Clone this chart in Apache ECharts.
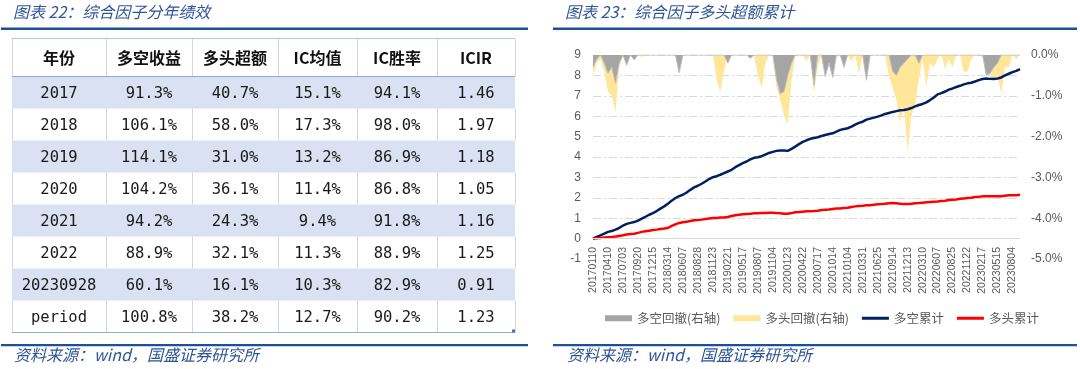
<!DOCTYPE html>
<html><head><meta charset="utf-8">
<script src="https://cdn.jsdelivr.net/npm/echarts@6/dist/echarts.min.js"></script>
<style>html,body{margin:0;padding:0;background:#fff}#c{width:1080px;height:369px}</style>
</head><body><div id="c"></div>
<script>
// ---------- Table data (图表22) ----------
const tableHeaders = ['年份', '多空收益', '多头超额', 'IC均值', 'IC胜率', 'ICIR'];
const tableYears = ['2017', '2018', '2019', '2020', '2021', '2022', '20230928', 'period'];
const longShortReturn = [91.3, 106.1, 114.1, 104.2, 94.2, 88.9, 60.1, 100.8];
const longExcess = [40.7, 58.0, 31.0, 36.1, 24.3, 32.1, 16.1, 38.2];
const icMean = [15.1, 17.3, 13.2, 11.4, 9.4, 11.3, 10.3, 12.7];
const icWinRate = [94.1, 98.0, 86.9, 86.8, 91.8, 88.9, 82.9, 90.2];
const icir = [1.46, 1.97, 1.18, 1.05, 1.16, 1.25, 0.91, 1.23];

// ---------- Chart data (图表23) ----------
const tickDates = ['20170110','20170410','20170703','20170920','20171215','20180314','20180607','20180828',
  '20181123','20190221','20190517','20190807','20191104','20200123','20200422','20200717','20201014',
  '20210104','20210331','20210625','20210914','20211213','20220310','20220607','20220825','20221122',
  '20230217','20230515','20230804'];
const lastDate = '20230928';
const samplesPerTick = 4;

const longShortCum = [0,0.08,0.16,0.24,0.33,0.37,0.44,0.52,0.64,0.72,
0.77,0.81,0.88,0.98,1.07,1.17,1.25,1.35,1.47,1.58,
1.71,1.86,1.99,2.08,2.15,2.26,2.39,2.51,2.59,2.69,
2.80,2.92,3.01,3.06,3.13,3.21,3.29,3.37,3.50,3.60,
3.70,3.78,3.88,3.96,3.99,4.04,4.12,4.20,4.25,4.30,
4.32,4.32,4.30,4.40,4.51,4.63,4.74,4.82,4.89,4.93,
4.97,5.03,5.08,5.13,5.16,5.24,5.33,5.37,5.41,5.49,
5.59,5.67,5.73,5.83,5.88,5.93,5.98,6.04,6.11,6.16,
6.21,6.25,6.29,6.30,6.34,6.40,6.48,6.55,6.60,6.68,
6.79,6.92,7.07,7.13,7.21,7.30,7.36,7.43,7.49,7.56,
7.61,7.64,7.70,7.77,7.82,7.85,7.83,7.82,7.85,7.90,
8.00,8.08,8.16,8.22,8.31];

const longCum = [0,0.02,0.03,0.05,0.07,0.08,0.10,0.13,0.16,0.20,
0.23,0.24,0.28,0.33,0.36,0.39,0.42,0.44,0.47,0.49,
0.52,0.62,0.70,0.77,0.80,0.83,0.86,0.90,0.91,0.93,
0.96,0.99,1.01,1.01,1.03,1.04,1.06,1.11,1.14,1.17,
1.19,1.21,1.22,1.24,1.24,1.25,1.25,1.27,1.27,1.25,
1.24,1.22,1.22,1.25,1.29,1.30,1.32,1.34,1.34,1.35,
1.37,1.40,1.42,1.43,1.45,1.47,1.48,1.50,1.51,1.55,
1.58,1.60,1.61,1.63,1.64,1.66,1.68,1.69,1.71,1.73,
1.74,1.73,1.71,1.69,1.69,1.71,1.73,1.74,1.76,1.78,
1.79,1.81,1.82,1.84,1.86,1.89,1.91,1.92,1.95,1.97,
1.99,2.00,2.04,2.05,2.07,2.07,2.07,2.07,2.07,2.08,
2.10,2.12,2.12,2.13,2.15];

// drawdowns in %
const longDrawdown = [-0.5,-0.2,-0.1,-0.4,-0.9,-1.0,-1.4,-0.3,0,-0.1,
0,0,0,-0.05,0,0,0,0,0,0,
0,0,0,-0.1,0,0,0,0,0,0,
0,0,0,-0.6,-0.9,-0.4,0,0,0,0,
0,0,0,0,-0.5,-0.8,-0.2,0,0,-0.8,
-1.1,-1.5,-1.68,-0.6,0,0,0,-0.15,0,-0.94,
-0.3,0,-0.3,0,-0.4,0,0,-0.33,0,-0.15,
0,-0.45,0,-0.62,0,0,0,0,0,-0.5,
-0.8,-1.1,-1.64,-1.3,-2.34,-1.5,-1.2,-0.6,-0.1,-0.78,
-0.2,-0.3,-0.1,0,-0.35,-0.1,-0.3,0,0,-0.42,
-0.4,-0.1,0,0,0,-0.4,-0.5,-0.6,-0.5,-0.95,
-0.3,-0.3,0,-0.1,0];

const longShortDrawdown = [-0.3,-0.1,0,-0.2,-0.45,-0.3,-0.7,-0.2,0,-0.25,
0,-0.12,0,0,0,0,0,0,0,0,
0,0,0,-0.44,0,0,0,0,0,0,
0,0,0,0,0,0,-0.2,0,0,0,
0,0,-0.08,0,0,0,0,0,0,-0.6,
-0.95,-0.9,-0.5,-0.2,0,0,0,0,0,-0.74,
0,0,-0.53,-0.2,-0.55,0,0,-0.3,0,0,
0,0,0,-0.62,0,0,0,0,0,0,
-0.4,-0.5,-0.3,-0.2,-0.1,0,0,-0.2,0,0,
0,0,0,0,0,0,0,0,0,0,
0,0,0,0,0,-0.5,-0.45,-0.3,-0.2,0,
0,0,0,0,0];

// category axis: tick dates with unlabeled samples between them
const categories = [];
tickDates.forEach(function (d, i) {
  categories.push(d);
  if (i < tickDates.length - 1) for (let j = 1; j < samplesPerTick; j++) categories.push('');
});
while (categories.length < longShortCum.length - 1) categories.push('');
categories.push(lastDate);

// ---------- layout ----------
const TITLE_COLOR = '#2E5597';
const RULE_COLOR = '#1F4E9A';
const colX = [12, 106, 192, 278, 357, 437, 515];
const tableTop = 38.5, headerH = 38, rowH = 32;

const graphics = [];
function txt(x, y, text, font, fill, align) {
  graphics.push({type: 'text', x: x, y: y, silent: true,
    style: {text: text, font: font, fill: fill, align: align || 'center', verticalAlign: 'middle',
      textAlign: align || 'center', textVerticalAlign: 'middle'}});
}
function line(x1, y1, x2, y2, stroke, w) {
  graphics.push({type: 'line', silent: true, shape: {x1: x1, y1: y1, x2: x2, y2: y2}, style: {stroke: stroke, lineWidth: w}});
}
function rect(x, y, w, h, fill) {
  graphics.push({type: 'rect', silent: true, shape: {x: x, y: y, width: w, height: h}, style: {fill: fill}});
}

// titles, rules, sources
const titleFont = 'italic 16px "Noto Sans CJK SC"';
txt(13, 12, '图表 22：综合因子分年绩效', titleFont, TITLE_COLOR, 'left');
txt(565, 12, '图表 23：综合因子多头超额累计', titleFont, TITLE_COLOR, 'left');
rect(1, 27.5, 527, 2.5, RULE_COLOR);
rect(553, 27.5, 524, 2.5, RULE_COLOR);
rect(1, 344, 527, 2.3, RULE_COLOR);
rect(553, 344, 524, 2.3, RULE_COLOR);
txt(14, 355, '资料来源：wind，国盛证券研究所', titleFont, TITLE_COLOR, 'left');
txt(567, 355, '资料来源：wind，国盛证券研究所', titleFont, TITLE_COLOR, 'left');

// table
const columns = [
  tableYears,
  longShortReturn.map(v => v.toFixed(1) + '%'),
  longExcess.map(v => v.toFixed(1) + '%'),
  icMean.map(v => v.toFixed(1) + '%'),
  icWinRate.map(v => v.toFixed(1) + '%'),
  icir.map(v => v.toFixed(2))
];
const nRows = tableYears.length;
const bodyTop = tableTop + headerH;
const tableBottom = bodyTop + nRows * rowH;
for (let r = 0; r < nRows; r++) {
  if (r % 2 === 0) rect(colX[0], bodyTop + r * rowH, colX[6] - colX[0], rowH, '#D9E1F2');
}
for (let c = 0; c < colX.length; c++) {
  const x = Math.round(colX[c]) + 0.5;
  line(x, tableTop, x, bodyTop, '#D6D6D6', 1);
  for (let r = 0; r < nRows; r++) {
    if (r % 2 === 1) line(x, bodyTop + r * rowH, x, bodyTop + (r + 1) * rowH, '#D6D6D6', 1);
  }
}
line(colX[0], tableTop, colX[6], tableTop, '#B4C6E7', 1);
line(colX[0], bodyTop, colX[6], bodyTop, '#8EA9DB', 1);
line(colX[0], tableBottom, colX[6], tableBottom, '#8EA9DB', 1);
rect(colX[6] - 3, tableBottom - 3, 3, 3, '#4472C4');
for (let c = 0; c < tableHeaders.length; c++) {
  const cx = (colX[c] + colX[c + 1]) / 2;
  txt(cx, tableTop + headerH / 2, tableHeaders[c], 'bold 16px "Noto Sans CJK SC"', '#111', 'center');
  for (let r = 0; r < nRows; r++) {
    txt(cx, bodyTop + r * rowH + rowH / 2 + 1, columns[c][r], '15.5px "DejaVu Sans Mono"', '#1a1a1a', 'center');
  }
}

const LINE_ICON = 'path://M0,0H27V3H0Z';
const chart = echarts.init(document.getElementById('c'), null, {renderer: 'canvas'});
chart.setOption({
  backgroundColor: '#ffffff',
  animation: false,
  graphic: {elements: graphics},
  grid: {left: 593, right: 60, top: 55, bottom: 110, containLabel: false},
  legend: {
    left: 600, top: 307, itemWidth: 27, itemHeight: 6, itemGap: 13, symbolKeepAspect: true,
    itemStyle: {borderWidth: 0},
    textStyle: {fontSize: 12.5, color: '#595959', fontFamily: '"Noto Sans CJK SC"'},
    data: [
      {name: '多空回撤(右轴)', icon: 'rect'},
      {name: '多头回撤(右轴)', icon: 'rect'},
      {name: '多空累计', icon: LINE_ICON, itemStyle: {color: '#002060'}},
      {name: '多头累计', icon: LINE_ICON, itemStyle: {color: '#FF0000'}}
    ]
  },
  xAxis: {
    type: 'category', data: categories, boundaryGap: false,
    axisLine: {show: false, onZero: false},
    axisTick: {show: false},
    axisLabel: {interval: samplesPerTick - 1, rotate: 90, margin: -12, fontSize: 10.5, color: '#595959', fontFamily: '"Liberation Sans"'},
    splitLine: {show: false}
  },
  yAxis: [
    {type: 'value', min: -1, max: 9, interval: 1, position: 'left',
      axisLine: {show: false}, axisTick: {show: false},
      axisLabel: {color: '#595959', fontSize: 12, margin: 12, fontFamily: '"Liberation Sans"'},
      splitLine: {show: true, showMinLine: false, lineStyle: {color: '#D9D9D9', width: 1, type: [8, 3, 2, 3]}}},
    {type: 'value', min: -5, max: 0, interval: 1, position: 'right',
      axisLine: {show: false}, axisTick: {show: false}, splitLine: {show: false},
      axisLabel: {color: '#595959', fontSize: 12, margin: 11, fontFamily: '"Liberation Sans"',
        formatter: function (v) { return v.toFixed(1) + '%'; }}}
  ],
  series: [
    {name: '多头回撤(右轴)', type: 'line', yAxisIndex: 1, data: longDrawdown, symbol: 'none', z: 1,
      color: '#FFE699', lineStyle: {width: 0, color: '#FFE699'}, itemStyle: {color: '#FFE699'},
      areaStyle: {color: '#FFE699', opacity: 1}},
    {name: '多空回撤(右轴)', type: 'line', yAxisIndex: 1, data: longShortDrawdown, symbol: 'none', z: 2,
      color: '#A5A5A5', lineStyle: {width: 1, color: '#BFBFBF'}, itemStyle: {color: '#A5A5A5'},
      areaStyle: {color: '#A5A5A5', opacity: 1}},
    {name: '多空累计', type: 'line', yAxisIndex: 0, data: longShortCum, symbol: 'none', z: 3,
      color: '#002060', lineStyle: {width: 2.5, color: '#002060'}, itemStyle: {color: '#002060'},
      markLine: {silent: true, symbol: 'none', label: {show: false}, animation: false,
        lineStyle: {color: '#D9D9D9', width: 1, type: 'solid'}, data: [{yAxis: 0}]}},
    {name: '多头累计', type: 'line', yAxisIndex: 0, data: longCum, symbol: 'none', z: 4,
      color: '#FF0000', lineStyle: {width: 2.5, color: '#FF0000'}, itemStyle: {color: '#FF0000'}}
  ]
});
</script>
</body></html>
